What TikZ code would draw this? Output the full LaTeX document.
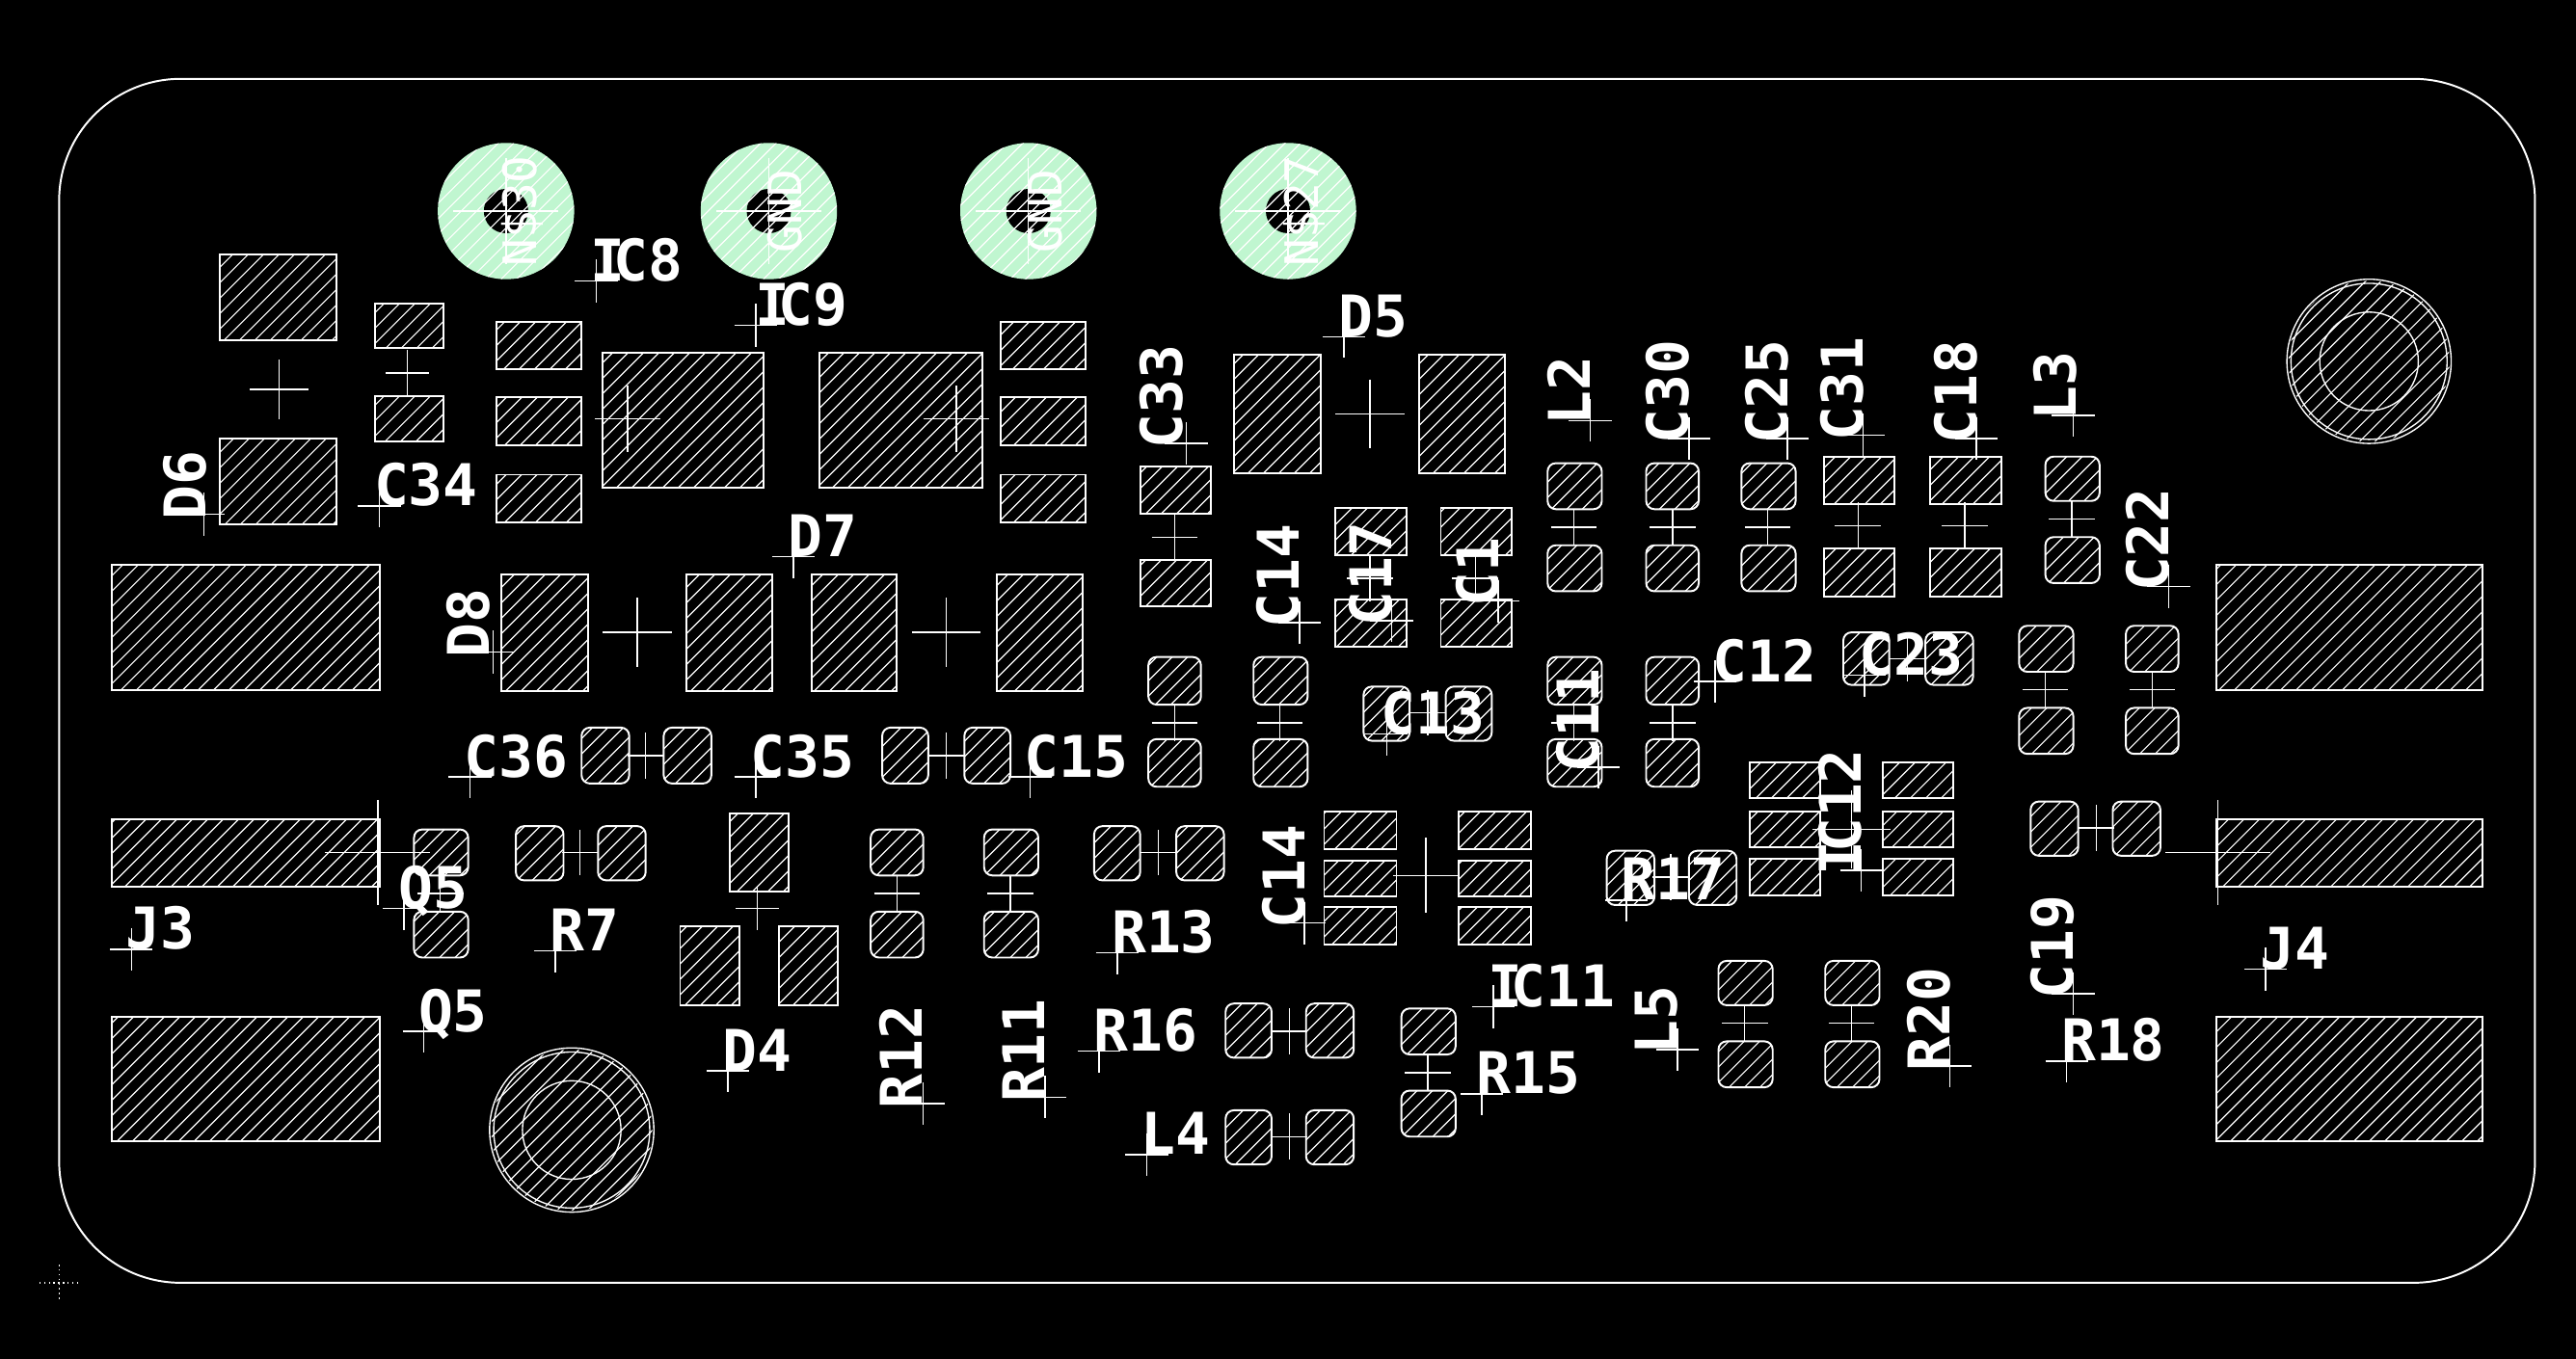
\documentclass[tikz,border=0pt]{standalone}
\usepackage{fontspec}
\newfontfamily\lblfont{DejaVu Sans Mono Bold}
\newfontfamily\netfont{DejaVu Sans Mono}
\definecolor{viagreen}{HTML}{C0F6D0}
\tikzset{
  pcb/.style={white,line width=1.15pt},
  thin/.style={white,line width=0.85pt},
  hatchline/.style={white,line width=0.7pt},
  lbl/.style={inner sep=0,anchor=base west,text=white,font=\lblfont\fontsize{35}{35}\selectfont},
  netlbl/.style={inner sep=0,anchor=center,text=white,rotate=90,font=\netfont\fontsize{28}{28}\selectfont},
}
\def\hs{9.39}
\def\hp{5.47}
\newcommand\hatchbox[4]{%
  \pgfmathtruncatemacro\ka{floor(((#1)+(#2))/\hs)-1}%
  \pgfmathtruncatemacro\kb{ceil(((#3)+(#4))/\hs)+1}%
  \foreach \k in {\ka,...,\kb}{\draw[hatchline] ({\k*\hs+\hp-(#2)},{#2}) -- ({\k*\hs+\hp-(#4)},{#4});}%
}
\newcommand\R[4]{%
  \begin{scope}\clip (#1,#2) rectangle (#3,#4);\hatchbox{#1}{#2}{#3}{#4}\end{scope}%
  \draw[pcb] (#1,#2) rectangle (#3,#4);}
\newcommand\Q[4]{%
  \begin{scope}\clip[rounded corners=5pt] (#1,#2) rectangle (#3,#4);\hatchbox{#1}{#2}{#3}{#4}\end{scope}%
  \draw[pcb,rounded corners=5pt] (#1,#2) rectangle (#3,#4);}
\newcommand\X[4]{\draw[thin] ({#1-#3},#2) -- ({#1+#3},#2) ({#1},{#2-#4}) -- ({#1},{#2+#4});}
\newcommand\LH[4][0]{\X{#2}{#3}{13}{13}\node[lbl] at ({#2-3.5+#1},#3) {#4};}
\newcommand\LV[4][0]{\X{#2}{#3}{13}{13}\node[lbl,rotate=90] at ({#2+#1},{#3+3.5}) {#4};}
\newcommand\Via[3]{%
  \fill[viagreen] (#1,#2) circle (41.5);
  \fill[black] (#1,#2) circle (13.5);
  \begin{scope}\clip (#1,#2) circle (41.5);\hatchbox{#1-42}{#2-42}{#1+42}{#2+42}\end{scope}
  \X{#1}{#2}{32}{32}
  \node[netlbl] at ({#1+10},#2) {#3};}
\newcommand\Hole[2]{%
  \begin{scope}\clip (#1,#2) circle (49);\hatchbox{#1-50}{#2-50}{#1+50}{#2+50}\end{scope}
  \draw[pcb,line width=.8pt] (#1,#2) circle (50) (#1,#2) circle (47.5) (#1,#2) circle (30);}
\newcommand\Ik{I\kern-7pt\relax}
\begin{document}
\begin{tikzpicture}[x=1pt,y=-1pt]
\fill[black] (0,0) rectangle (1568,827.4);
\useasboundingbox (0,0) rectangle (1568,827.4);
% outline
\draw[pcb,rounded corners=74pt] (36,48) rectangle (1543,781);
\draw[thin,dotted,line width=.7pt] (24,781) -- (47,781) (36,770) -- (36,792);
% vias
\Via{308}{128.5}{N\$30}\Via{468}{128.5}{GND}\Via{626}{128.5}{GND}\Via{784}{128.5}{N\$27}
% holes
\Hole{1442}{220}\Hole{348}{688}
% rect pads
\R{134}{155}{205}{207}\R{134}{267}{205}{319}
\R{228}{185}{270}{212}\R{228}{241}{270}{269}
\R{302}{196}{354}{225}\R{302}{242}{354}{271}\R{302}{289}{354}{318}
\R{367}{215}{465}{297}\R{499}{215}{598}{297}
\R{609}{196}{661}{225}\R{609}{242}{661}{271}\R{609}{289}{661}{318}
\R{68}{344}{231}{420}\R{68}{499}{231}{540}\R{68}{619}{231}{695}
\R{1349}{344}{1511}{420}\R{1349}{499}{1511}{540}\R{1349}{619}{1511}{695}
\R{305}{350}{358}{421}\R{418}{350}{470}{421}
\R{494}{350}{546}{421}\R{607}{350}{659}{421}
\R{694}{284}{737}{313}\R{694}{341}{737}{369}
\R{751}{216}{804}{288}\R{864}{216}{916}{288}
\R{813}{309}{856}{338}\R{813}{365}{856}{394}
\R{877}{309}{920}{338}\R{877}{365}{920}{394}
\R{1110}{278}{1153}{307}\R{1110}{334}{1153}{363}
\R{1175}{278}{1218}{307}\R{1175}{334}{1218}{363}
\R{444}{495}{480}{543}\R{414}{564}{450}{612}\R{474}{564}{510}{612}
\R{806}{494}{850}{517}\R{806}{524}{850}{546}\R{806}{552}{850}{575}
\R{888}{494}{932}{517}\R{888}{524}{932}{546}\R{888}{552}{932}{575}
\R{1065}{464}{1108}{486}\R{1065}{494}{1108}{516}\R{1065}{523}{1108}{545}
\R{1146}{464}{1189}{486}\R{1146}{494}{1189}{516}\R{1146}{523}{1189}{545}
% rounded pads
\Q{942}{282}{975}{310}\Q{942}{332}{975}{360}
\Q{1002}{282}{1034}{310}\Q{1002}{332}{1034}{360}
\Q{1060}{282}{1093}{310}\Q{1060}{332}{1093}{360}
\Q{1245}{278}{1278}{305}\Q{1245}{327}{1278}{355}
\Q{1294}{381}{1326}{409}\Q{1294}{431}{1326}{459}
\Q{1229}{381}{1262}{409}\Q{1229}{431}{1262}{459}
\Q{1122}{385}{1150}{417}\Q{1172}{385}{1201}{417}
\Q{699}{400}{731}{429}\Q{699}{450}{731}{479}
\Q{763}{400}{796}{429}\Q{763}{450}{796}{479}
\Q{830}{418}{858}{451}\Q{880}{418}{908}{451}
\Q{942}{400}{975}{429}\Q{942}{450}{975}{479}
\Q{1002}{400}{1034}{429}\Q{1002}{450}{1034}{479}
\Q{354}{443}{383}{477}\Q{404}{443}{433}{477}
\Q{537}{443}{565}{477}\Q{587}{443}{615}{477}
\Q{666}{503}{694}{536}\Q{716}{503}{745}{536}
\Q{252}{505}{285}{533}\Q{252}{555}{285}{583}
\Q{314}{503}{343}{536}\Q{364}{503}{393}{536}
\Q{530}{505}{562}{533}\Q{530}{555}{562}{583}
\Q{599}{505}{632}{533}\Q{599}{555}{632}{583}
\Q{746}{611}{774}{644}\Q{795}{611}{824}{644}
\Q{746}{676}{774}{709}\Q{795}{676}{824}{709}
\Q{853}{614}{886}{642}\Q{853}{664}{886}{692}
\Q{978}{518}{1007}{551}\Q{1028}{518}{1057}{551}
\Q{1046}{585}{1079}{612}\Q{1046}{634}{1079}{662}
\Q{1111}{585}{1144}{612}\Q{1111}{634}{1144}{662}
\Q{1236}{488}{1265}{521}\Q{1286}{488}{1315}{521}
% big crosses
\X{170}{237}{18}{18}\X{248}{227}{13}{14}\X{382}{255}{20}{20}\X{582}{255}{20}{20}
\X{388}{385}{21}{21}\X{576}{385}{21}{21}\X{834}{252}{21}{21}
\X{230}{519}{32}{32}\X{1350}{519}{32}{32}\X{868}{533}{20}{23}\X{1127}{505}{24}{24}
\X{461}{553}{13}{13}
% small crosses between pads
\X{715}{327}{14}{14}\X{834}{352}{14}{14}\X{898}{352}{14}{14}
\X{958}{321}{14}{11}\X{1018}{321}{14}{11}\X{1076}{321}{14}{11}
\X{1131}{320}{14}{14}\X{1196}{320}{14}{14}\X{1261}{316}{14}{11}
\X{1310}{420}{14}{11}\X{1245}{420}{14}{11}\X{1161}{401}{11}{14}
\X{715}{440}{14}{11}\X{779}{440}{14}{11}\X{869}{434}{11}{14}
\X{958}{440}{14}{11}\X{1018}{440}{14}{11}
\X{393}{460}{11}{14}\X{576}{460}{11}{14}\X{705}{519}{11}{14}
\X{268}{544}{14}{11}\X{353}{519}{11}{14}\X{546}{544}{14}{11}\X{615}{544}{14}{11}
\X{785}{628}{11}{14}\X{785}{692}{11}{14}\X{869}{653}{14}{11}
\X{1017}{534}{11}{14}\X{1062}{623}{14}{11}\X{1127}{623}{14}{11}\X{1276}{504}{11}{14}
% horizontal labels
\LH{363}{171}{\Ik C8}\LH[3]{460}{198}{\Ik C9}\LH{818}{205}{D5}\LH{231}{308}{C34}
\LH{483}{339}{D7}\LH[2]{1044}{415}{C12}\LH{1135}{411}{C23}\LH{844}{447}{C13}
\LH{286}{473}{C36}\LH{460}{473}{C35}\LH{627}{473}{C15}\LH{80}{578}{J3}
\LH{246}{553}{Q5}\LH{258}{628}{Q5}\LH{338}{579}{R7}\LH{443}{652}{D4}
\LH{680}{580}{R13}\LH{669}{640}{R16}\LH{698}{703}{L4}\LH{902}{666}{R15}
\LH{909}{613}{\Ik C11}\LH{1258}{646}{R18}\LH{1379}{590}{J4}\LH{990}{548}{R17}
% rotated labels
\LV[1]{124}{313}{D6}\LV[-2]{300}{397}{D8}\LV[-2]{722}{270}{C33}\LV{968}{256}{L2}
\LV{1028}{267}{C30}\LV{1088}{267}{C25}\LV{1134}{265}{C31}\LV{1203}{267}{C18}
\LV[2]{1262}{253}{L3}\LV{1320}{357}{C22}\LV{791}{379}{C14}\LV{847}{378}{C17}
\LV{912}{366}{C1}\LV{973}{467}{C11}\LV{794}{562}{C14}\LV{1133}{530}{\Ik C12}
\LV[-1]{562}{672}{R12}\LV{636}{668}{R11}\LV{1021}{639}{L5}\LV{1187}{649}{R20}
\LV{1262}{605}{C19}
\end{tikzpicture}
\end{document}
